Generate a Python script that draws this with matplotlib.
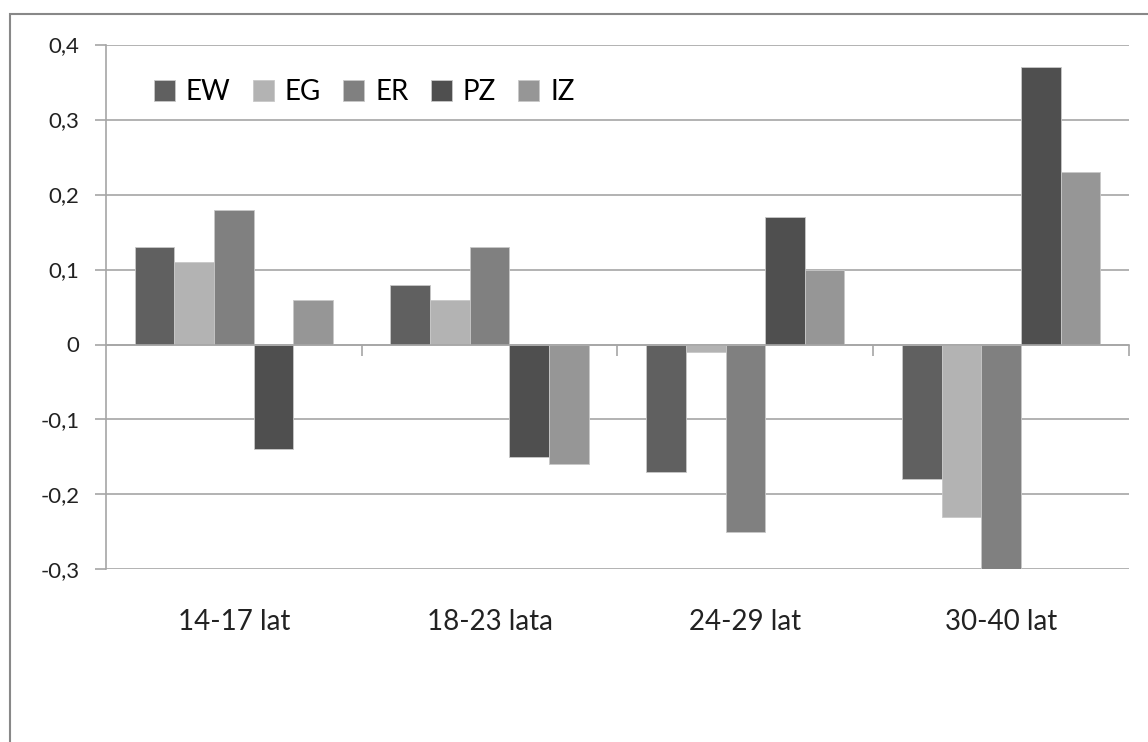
import matplotlib
matplotlib.use("Agg")
import matplotlib.pyplot as plt
import numpy as np
from matplotlib.patches import Rectangle

plt.rcParams["font.family"] = ["Lato", "DejaVu Sans"]

CATEGORIES = ["14-17 lat", "18-23 lata", "24-29 lat", "30-40 lat"]
SERIES = ["EW", "EG", "ER", "PZ", "IZ"]
EW = [0.13, 0.08, -0.17, -0.18]
EG = [0.11, 0.06, -0.01, -0.23]
ER = [0.18, 0.13, -0.25, -0.30]
PZ = [-0.14, -0.15, 0.17, 0.37]
IZ = [0.06, -0.16, 0.10, 0.23]
VALUES = [EW, EG, ER, PZ, IZ]
COLORS = ["#606060", "#b3b3b3", "#808080", "#4f4f4f", "#969696"]
YTICKS = [-0.3, -0.2, -0.1, 0.0, 0.1, 0.2, 0.3, 0.4]
YLABELS = ["-0,3", "-0,2", "-0,1", "0", "0,1", "0,2", "0,3", "0,4"]

GRID = "#a6a6a6"

fig = plt.figure(figsize=(11.48, 7.42), dpi=100)
ax = fig.add_axes([0.0923, 0.2325, 0.8911, 0.7075])

x = np.arange(len(CATEGORIES))
w = 0.155
for i, (name, vals, c) in enumerate(zip(SERIES, VALUES, COLORS)):
    ax.bar(x + (i - 2) * w, vals, w, color=c, label=name,
           edgecolor="#c8c8c8", linewidth=0.6, zorder=3)

ax.set_xlim(-0.5, len(CATEGORIES) - 0.5)
ax.set_ylim(-0.3, 0.4)
ax.set_yticks(YTICKS)
ax.set_yticklabels(YLABELS, fontsize=16)
ax.yaxis.grid(True, color=GRID, linewidth=1.2, zorder=0)
ax.tick_params(axis="y", length=8, color=GRID, width=1.2, pad=11, labelcolor="#222222")

for s in ["top", "right"]:
    ax.spines[s].set_visible(False)
ax.spines["left"].set_color(GRID)
ax.spines["left"].set_linewidth(1.2)
ax.spines["bottom"].set_position(("data", 0))
ax.spines["bottom"].set_color(GRID)
ax.spines["bottom"].set_linewidth(1.2)
ax.spines["bottom"].set_zorder(4)
ax.set_xticks(np.arange(0.5, len(CATEGORIES), 1.0))
ax.set_xticklabels([])
ax.tick_params(axis="x", length=8, color=GRID, width=1.2, direction="out")

for xi, lab in zip(x, CATEGORIES):
    ax.text(xi, -0.37, lab, ha="center", va="center", fontsize=20, color="#222222")

ax.legend(loc="upper left", bbox_to_anchor=(0.036, 0.955), ncol=5, frameon=False,
          fontsize=20, handlelength=0.75, handleheight=0.75, handletextpad=0.4,
          columnspacing=0.8, borderaxespad=0)

fig.patches.append(Rectangle((10 / 1148, -20 / 742), 1200 / 1148, 748 / 742,
                             transform=fig.transFigure, fill=False,
                             edgecolor="#888888", linewidth=1.5))

fig.savefig("out.png", dpi=100)
